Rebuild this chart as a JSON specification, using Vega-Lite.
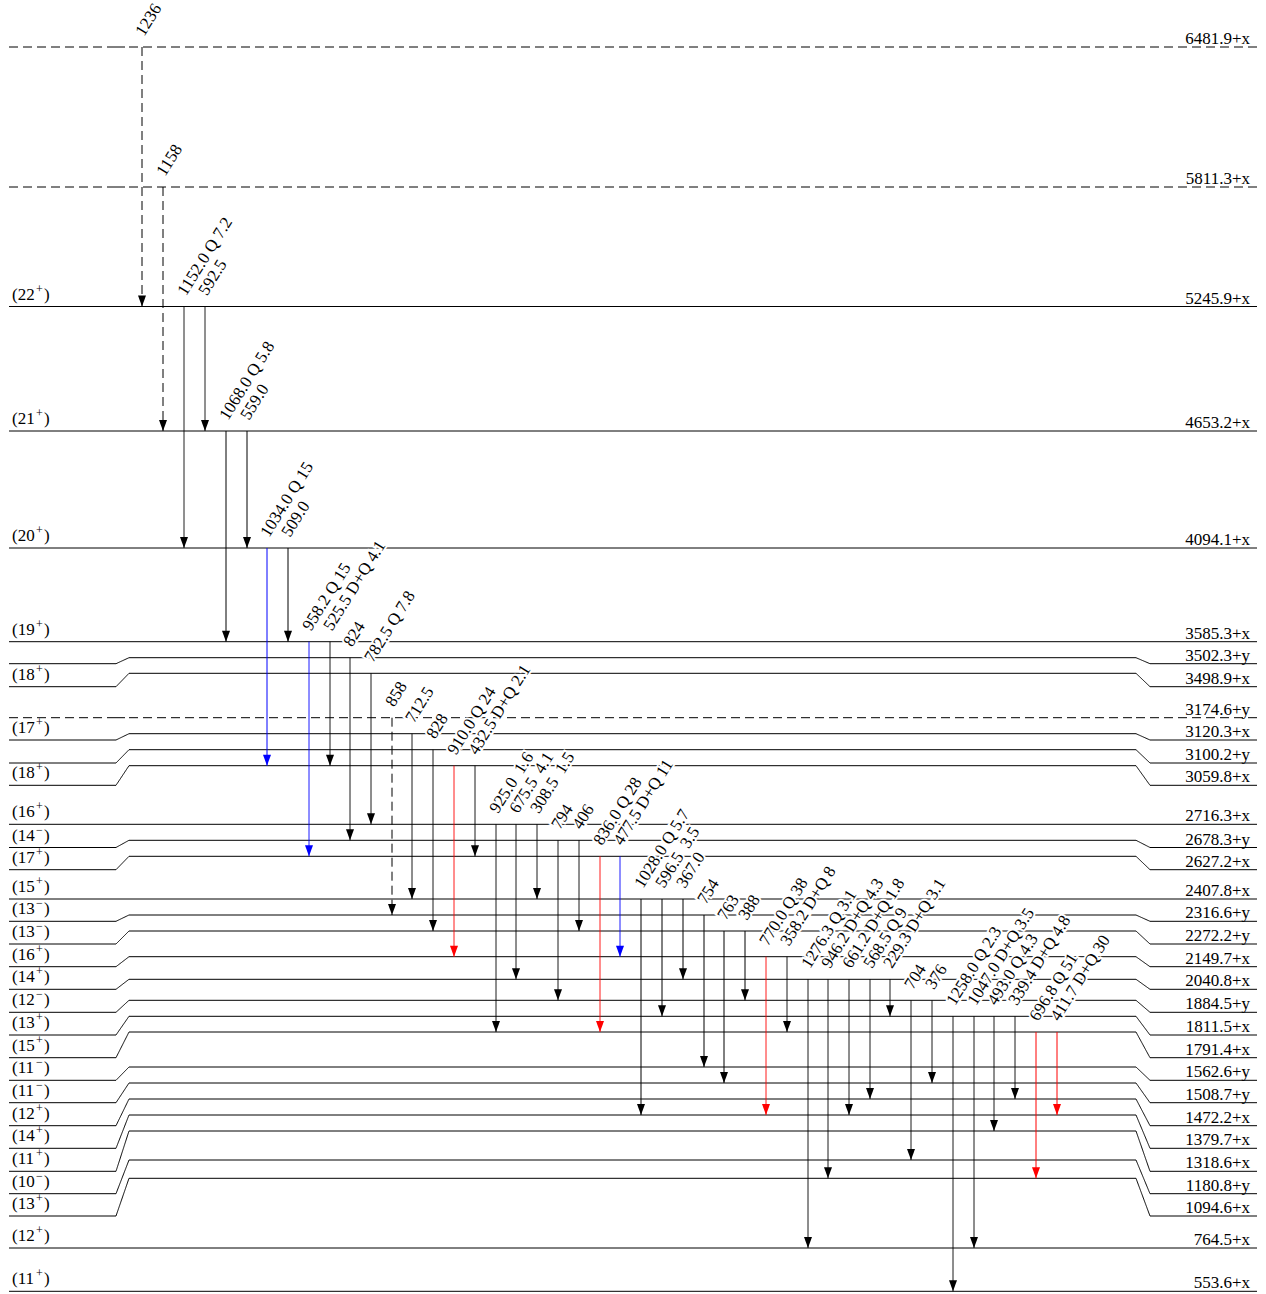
{
  "$schema": "https://vega.github.io/schema/vega-lite/v6.json",
  "width": 1266,
  "height": 1294,
  "autosize": "none",
  "padding": 0,
  "background": "white",
  "config": {"view": {"stroke": null}},
  "datasets": {
    "levels": [
      {"E":"6481.9+x","J":"","P":"","ym":47,"ys":47,"dash":"dashed"},
      {"E":"5811.3+x","J":"","P":"","ym":187,"ys":187,"dash":"dashed"},
      {"E":"5245.9+x","J":"(22","P":"+","ym":306.5,"ys":306.5,"dash":"solid"},
      {"E":"4653.2+x","J":"(21","P":"+","ym":431,"ys":431,"dash":"solid"},
      {"E":"4094.1+x","J":"(20","P":"+","ym":548,"ys":548,"dash":"solid"},
      {"E":"3585.3+x","J":"(19","P":"+","ym":641.7,"ys":641.7,"dash":"solid"},
      {"E":"3502.3+y","J":"","P":"","ym":657.7,"ys":663.7,"dash":"solid"},
      {"E":"3498.9+x","J":"(18","P":"+","ym":673.3,"ys":686.7,"dash":"solid"},
      {"E":"3174.6+y","J":"","P":"","ym":717.7,"ys":717.7,"dash":"dashed"},
      {"E":"3120.3+x","J":"(17","P":"+","ym":733.7,"ys":740,"dash":"solid"},
      {"E":"3100.2+y","J":"","P":"","ym":749.7,"ys":763,"dash":"solid"},
      {"E":"3059.8+x","J":"(18","P":"+","ym":765.7,"ys":785.3,"dash":"solid"},
      {"E":"2716.3+x","J":"(16","P":"+","ym":824.3,"ys":824.3,"dash":"solid"},
      {"E":"2678.3+y","J":"(14","P":"−","ym":840.3,"ys":847.5,"dash":"solid"},
      {"E":"2627.2+x","J":"(17","P":"+","ym":856.3,"ys":869.7,"dash":"solid"},
      {"E":"2407.8+x","J":"(15","P":"+","ym":899,"ys":899,"dash":"solid"},
      {"E":"2316.6+y","J":"(13","P":"−","ym":915,"ys":921.3,"dash":"solid"},
      {"E":"2272.2+y","J":"(13","P":"−","ym":931,"ys":944,"dash":"solid"},
      {"E":"2149.7+x","J":"(16","P":"+","ym":956.7,"ys":966.7,"dash":"solid"},
      {"E":"2040.8+x","J":"(14","P":"+","ym":979.3,"ys":989.3,"dash":"solid"},
      {"E":"1884.5+y","J":"(12","P":"−","ym":1000.3,"ys":1012.3,"dash":"solid"},
      {"E":"1811.5+x","J":"(13","P":"+","ym":1016.3,"ys":1035,"dash":"solid"},
      {"E":"1791.4+x","J":"(15","P":"+","ym":1032,"ys":1057.7,"dash":"solid"},
      {"E":"1562.6+y","J":"(11","P":"−","ym":1067,"ys":1080.3,"dash":"solid"},
      {"E":"1508.7+y","J":"(11","P":"−","ym":1083,"ys":1102.7,"dash":"solid"},
      {"E":"1472.2+x","J":"(12","P":"+","ym":1099,"ys":1125.7,"dash":"solid"},
      {"E":"1379.7+x","J":"(14","P":"+","ym":1115,"ys":1148.3,"dash":"solid"},
      {"E":"1318.6+x","J":"(11","P":"+","ym":1131,"ys":1171.3,"dash":"solid"},
      {"E":"1180.8+y","J":"(10","P":"−","ym":1160,"ys":1193.7,"dash":"solid"},
      {"E":"1094.6+x","J":"(13","P":"+","ym":1178.3,"ys":1216,"dash":"solid"},
      {"E":"764.5+x","J":"(12","P":"+","ym":1248,"ys":1248,"dash":"solid"},
      {"E":"553.6+x","J":"(11","P":"+","ym":1291.3,"ys":1291.3,"dash":"solid"}
    ],
    "trans": [
      {"x":142,"from":"6481.9+x","to":"5245.9+x","lab":"1236","col":"#000000","dash":"dashed"},
      {"x":163,"from":"5811.3+x","to":"4653.2+x","lab":"1158","col":"#000000","dash":"dashed"},
      {"x":184,"from":"5245.9+x","to":"4094.1+x","lab":"1152.0 Q 7.2","col":"#000000","dash":"solid"},
      {"x":205,"from":"5245.9+x","to":"4653.2+x","lab":"592.5","col":"#000000","dash":"solid"},
      {"x":226,"from":"4653.2+x","to":"3585.3+x","lab":"1068.0 Q 5.8","col":"#000000","dash":"solid"},
      {"x":247,"from":"4653.2+x","to":"4094.1+x","lab":"559.0","col":"#000000","dash":"solid"},
      {"x":267,"from":"4094.1+x","to":"3059.8+x","lab":"1034.0 Q 15","col":"#0000ff","dash":"solid"},
      {"x":288,"from":"4094.1+x","to":"3585.3+x","lab":"509.0","col":"#000000","dash":"solid"},
      {"x":309,"from":"3585.3+x","to":"2627.2+x","lab":"958.2 Q 15","col":"#0000ff","dash":"solid"},
      {"x":330,"from":"3585.3+x","to":"3059.8+x","lab":"525.5 D+Q 4.1","col":"#000000","dash":"solid"},
      {"x":350,"from":"3502.3+y","to":"2678.3+y","lab":"824","col":"#000000","dash":"solid"},
      {"x":371,"from":"3498.9+x","to":"2716.3+x","lab":"782.5 Q 7.8","col":"#000000","dash":"solid"},
      {"x":392,"from":"3174.6+y","to":"2316.6+y","lab":"858","col":"#000000","dash":"dashed"},
      {"x":412,"from":"3120.3+x","to":"2407.8+x","lab":"712.5","col":"#000000","dash":"solid"},
      {"x":433,"from":"3100.2+y","to":"2272.2+y","lab":"828","col":"#000000","dash":"solid"},
      {"x":454,"from":"3059.8+x","to":"2149.7+x","lab":"910.0 Q 24","col":"#ff0000","dash":"solid"},
      {"x":475,"from":"3059.8+x","to":"2627.2+x","lab":"432.5 D+Q 2.1","col":"#000000","dash":"solid"},
      {"x":496,"from":"2716.3+x","to":"1791.4+x","lab":"925.0\u00a0 1.6","col":"#000000","dash":"solid"},
      {"x":516,"from":"2716.3+x","to":"2040.8+x","lab":"675.5\u00a0 4.1","col":"#000000","dash":"solid"},
      {"x":537,"from":"2716.3+x","to":"2407.8+x","lab":"308.5\u00a0 1.5","col":"#000000","dash":"solid"},
      {"x":558,"from":"2678.3+y","to":"1884.5+y","lab":"794","col":"#000000","dash":"solid"},
      {"x":579,"from":"2678.3+y","to":"2272.2+y","lab":"406","col":"#000000","dash":"solid"},
      {"x":600,"from":"2627.2+x","to":"1791.4+x","lab":"836.0 Q 28","col":"#ff0000","dash":"solid"},
      {"x":620,"from":"2627.2+x","to":"2149.7+x","lab":"477.5 D+Q 11","col":"#0000ff","dash":"solid"},
      {"x":641,"from":"2407.8+x","to":"1379.7+x","lab":"1028.0 Q 5.7","col":"#000000","dash":"solid"},
      {"x":662,"from":"2407.8+x","to":"1811.5+x","lab":"596.5\u00a0 3.5","col":"#000000","dash":"solid"},
      {"x":683,"from":"2407.8+x","to":"2040.8+x","lab":"367.0","col":"#000000","dash":"solid"},
      {"x":704,"from":"2316.6+y","to":"1562.6+y","lab":"754","col":"#000000","dash":"solid"},
      {"x":724,"from":"2272.2+y","to":"1508.7+y","lab":"763","col":"#000000","dash":"solid"},
      {"x":745,"from":"2272.2+y","to":"1884.5+y","lab":"388","col":"#000000","dash":"solid"},
      {"x":766,"from":"2149.7+x","to":"1379.7+x","lab":"770.0 Q 38","col":"#ff0000","dash":"solid"},
      {"x":787,"from":"2149.7+x","to":"1791.4+x","lab":"358.2 D+Q 8","col":"#000000","dash":"solid"},
      {"x":808,"from":"2040.8+x","to":"764.5+x","lab":"1276.3 Q 3.1","col":"#000000","dash":"solid"},
      {"x":828,"from":"2040.8+x","to":"1094.6+x","lab":"946.2 D+Q 4.3","col":"#000000","dash":"solid"},
      {"x":849,"from":"2040.8+x","to":"1379.7+x","lab":"661.2 D+Q 1.8","col":"#000000","dash":"solid"},
      {"x":870,"from":"2040.8+x","to":"1472.2+x","lab":"568.5 Q 9","col":"#000000","dash":"solid"},
      {"x":890,"from":"2040.8+x","to":"1811.5+x","lab":"229.3 D+Q 3.1","col":"#000000","dash":"solid"},
      {"x":911,"from":"1884.5+y","to":"1180.8+y","lab":"704","col":"#000000","dash":"solid"},
      {"x":932,"from":"1884.5+y","to":"1508.7+y","lab":"376","col":"#000000","dash":"solid"},
      {"x":953,"from":"1811.5+x","to":"553.6+x","lab":"1258.0 Q 2.3","col":"#000000","dash":"solid"},
      {"x":974,"from":"1811.5+x","to":"764.5+x","lab":"1047.0 D+Q 3.5","col":"#000000","dash":"solid"},
      {"x":994,"from":"1811.5+x","to":"1318.6+x","lab":"493.0 Q 4.3","col":"#000000","dash":"solid"},
      {"x":1015,"from":"1811.5+x","to":"1472.2+x","lab":"339.4 D+Q 4.8","col":"#000000","dash":"solid"},
      {"x":1036,"from":"1791.4+x","to":"1094.6+x","lab":"696.8 Q 51","col":"#ff0000","dash":"solid"},
      {"x":1057,"from":"1791.4+x","to":"1379.7+x","lab":"411.7 D+Q 30","col":"#ff0000","dash":"solid"}
    ]
  },
  "layer": [
    {
      "data": {"name": "levels"},
      "mark": {"type": "rule", "color": "#000000", "strokeWidth": 1},
      "encoding": {
        "x": {"datum": 9, "type": "quantitative", "scale": {"domain": [0, 1266], "nice": false, "zero": false}, "axis": null},
        "x2": {"datum": 116},
        "y": {"field": "ys", "type": "quantitative", "scale": {"domain": [0, 1294], "reverse": true, "nice": false, "zero": false}, "axis": null},
        "strokeDash": {"field": "dash", "type": "nominal", "scale": {"domain": ["solid", "dashed"], "range": [[1, 0], [9, 5]]}, "legend": null}
      }
    },
    {
      "data": {"name": "levels"},
      "mark": {"type": "rule", "color": "#000000", "strokeWidth": 1},
      "encoding": {
        "x": {"datum": 116, "type": "quantitative", "scale": {"domain": [0, 1266], "nice": false, "zero": false}, "axis": null},
        "x2": {"datum": 129},
        "y": {"field": "ys", "type": "quantitative", "scale": {"domain": [0, 1294], "reverse": true, "nice": false, "zero": false}, "axis": null},
        "y2": {"field": "ym"},
        "strokeDash": {"field": "dash", "type": "nominal", "scale": {"domain": ["solid", "dashed"], "range": [[1, 0], [9, 5]]}, "legend": null}
      }
    },
    {
      "data": {"name": "levels"},
      "mark": {"type": "rule", "color": "#000000", "strokeWidth": 1},
      "encoding": {
        "x": {"datum": 129, "type": "quantitative", "scale": {"domain": [0, 1266], "nice": false, "zero": false}, "axis": null},
        "x2": {"datum": 1136},
        "y": {"field": "ym", "type": "quantitative", "scale": {"domain": [0, 1294], "reverse": true, "nice": false, "zero": false}, "axis": null},
        "strokeDash": {"field": "dash", "type": "nominal", "scale": {"domain": ["solid", "dashed"], "range": [[1, 0], [9, 5]]}, "legend": null}
      }
    },
    {
      "data": {"name": "levels"},
      "mark": {"type": "rule", "color": "#000000", "strokeWidth": 1},
      "encoding": {
        "x": {"datum": 1136, "type": "quantitative", "scale": {"domain": [0, 1266], "nice": false, "zero": false}, "axis": null},
        "x2": {"datum": 1150},
        "y": {"field": "ym", "type": "quantitative", "scale": {"domain": [0, 1294], "reverse": true, "nice": false, "zero": false}, "axis": null},
        "y2": {"field": "ys"},
        "strokeDash": {"field": "dash", "type": "nominal", "scale": {"domain": ["solid", "dashed"], "range": [[1, 0], [9, 5]]}, "legend": null}
      }
    },
    {
      "data": {"name": "levels"},
      "mark": {"type": "rule", "color": "#000000", "strokeWidth": 1},
      "encoding": {
        "x": {"datum": 1150, "type": "quantitative", "scale": {"domain": [0, 1266], "nice": false, "zero": false}, "axis": null},
        "x2": {"datum": 1257},
        "y": {"field": "ys", "type": "quantitative", "scale": {"domain": [0, 1294], "reverse": true, "nice": false, "zero": false}, "axis": null},
        "strokeDash": {"field": "dash", "type": "nominal", "scale": {"domain": ["solid", "dashed"], "range": [[1, 0], [9, 5]]}, "legend": null}
      }
    },
    {
      "data": {"name": "trans"},
      "transform": [
        {"lookup": "from", "from": {"data": {"name": "levels"}, "key": "E", "fields": ["ym"]}, "as": ["yt"]},
        {"lookup": "to", "from": {"data": {"name": "levels"}, "key": "E", "fields": ["ym"]}, "as": ["yb"]}
      ],
      "layer": [
        {
          "mark": {"type": "rule", "strokeWidth": 1},
          "encoding": {
            "x": {"field": "x", "type": "quantitative", "scale": {"domain": [0, 1266], "nice": false, "zero": false}, "axis": null},
            "y": {"field": "yt", "type": "quantitative", "scale": {"domain": [0, 1294], "reverse": true, "nice": false, "zero": false}, "axis": null},
            "y2": {"field": "yb"},
            "color": {"field": "col", "type": "nominal", "scale": null},
            "strokeDash": {"field": "dash", "type": "nominal", "scale": {"domain": ["solid", "dashed"], "range": [[1, 0], [9, 5]]}, "legend": null}
          }
        },
        {
          "mark": {"type": "point", "shape": "M-1,-2.75L1,-2.75L0,0Z", "size": 64, "filled": true, "opacity": 1, "strokeWidth": 0},
          "encoding": {
            "x": {"field": "x", "type": "quantitative", "scale": {"domain": [0, 1266], "nice": false, "zero": false}, "axis": null},
            "y": {"field": "yb", "type": "quantitative", "scale": {"domain": [0, 1294], "reverse": true, "nice": false, "zero": false}, "axis": null},
            "color": {"field": "col", "type": "nominal", "scale": null}
          }
        },
        {
          "mark": {"type": "text", "angle": -58, "align": "left", "baseline": "alphabetic", "font": "Liberation Serif", "fontSize": 17, "xOffset": 2, "yOffset": -10, "fill": "white", "stroke": "white", "strokeWidth": 4},
          "encoding": {
            "x": {"field": "x", "type": "quantitative", "scale": {"domain": [0, 1266], "nice": false, "zero": false}, "axis": null},
            "y": {"field": "yt", "type": "quantitative", "scale": {"domain": [0, 1294], "reverse": true, "nice": false, "zero": false}, "axis": null},
            "text": {"field": "lab", "type": "nominal"}
          }
        },
        {
          "mark": {"type": "text", "angle": -58, "align": "left", "baseline": "alphabetic", "font": "Liberation Serif", "fontSize": 17, "xOffset": 2, "yOffset": -10, "fill": "black"},
          "encoding": {
            "x": {"field": "x", "type": "quantitative", "scale": {"domain": [0, 1266], "nice": false, "zero": false}, "axis": null},
            "y": {"field": "yt", "type": "quantitative", "scale": {"domain": [0, 1294], "reverse": true, "nice": false, "zero": false}, "axis": null},
            "text": {"field": "lab", "type": "nominal"}
          }
        }
      ]
    },
    {
      "data": {"name": "levels"},
      "transform": [{"filter": "datum.J != ''"}],
      "layer": [
        {
          "mark": {"type": "text", "align": "left", "baseline": "alphabetic", "font": "Liberation Serif", "fontSize": 17, "yOffset": -7, "fill": "black"},
          "encoding": {
            "x": {"datum": 12, "type": "quantitative", "scale": {"domain": [0, 1266], "nice": false, "zero": false}, "axis": null},
            "y": {"field": "ys", "type": "quantitative", "scale": {"domain": [0, 1294], "reverse": true, "nice": false, "zero": false}, "axis": null},
            "text": {"field": "J", "type": "nominal"}
          }
        },
        {
          "mark": {"type": "text", "align": "left", "baseline": "alphabetic", "font": "Liberation Serif", "fontSize": 12, "yOffset": -14, "fill": "black"},
          "encoding": {
            "x": {"datum": 36, "type": "quantitative", "scale": {"domain": [0, 1266], "nice": false, "zero": false}, "axis": null},
            "y": {"field": "ys", "type": "quantitative", "scale": {"domain": [0, 1294], "reverse": true, "nice": false, "zero": false}, "axis": null},
            "text": {"field": "P", "type": "nominal"}
          }
        },
        {
          "mark": {"type": "text", "align": "left", "baseline": "alphabetic", "font": "Liberation Serif", "fontSize": 17, "yOffset": -7, "fill": "black"},
          "encoding": {
            "x": {"datum": 44, "type": "quantitative", "scale": {"domain": [0, 1266], "nice": false, "zero": false}, "axis": null},
            "y": {"field": "ys", "type": "quantitative", "scale": {"domain": [0, 1294], "reverse": true, "nice": false, "zero": false}, "axis": null},
            "text": {"value": ")"}
          }
        }
      ]
    },
    {
      "data": {"name": "levels"},
      "mark": {"type": "text", "align": "right", "baseline": "alphabetic", "font": "Liberation Serif", "fontSize": 17, "yOffset": -3, "fill": "black"},
      "encoding": {
        "x": {"datum": 1250, "type": "quantitative", "scale": {"domain": [0, 1266], "nice": false, "zero": false}, "axis": null},
        "y": {"field": "ys", "type": "quantitative", "scale": {"domain": [0, 1294], "reverse": true, "nice": false, "zero": false}, "axis": null},
        "text": {"field": "E", "type": "nominal"}
      }
    }
  ]
}
